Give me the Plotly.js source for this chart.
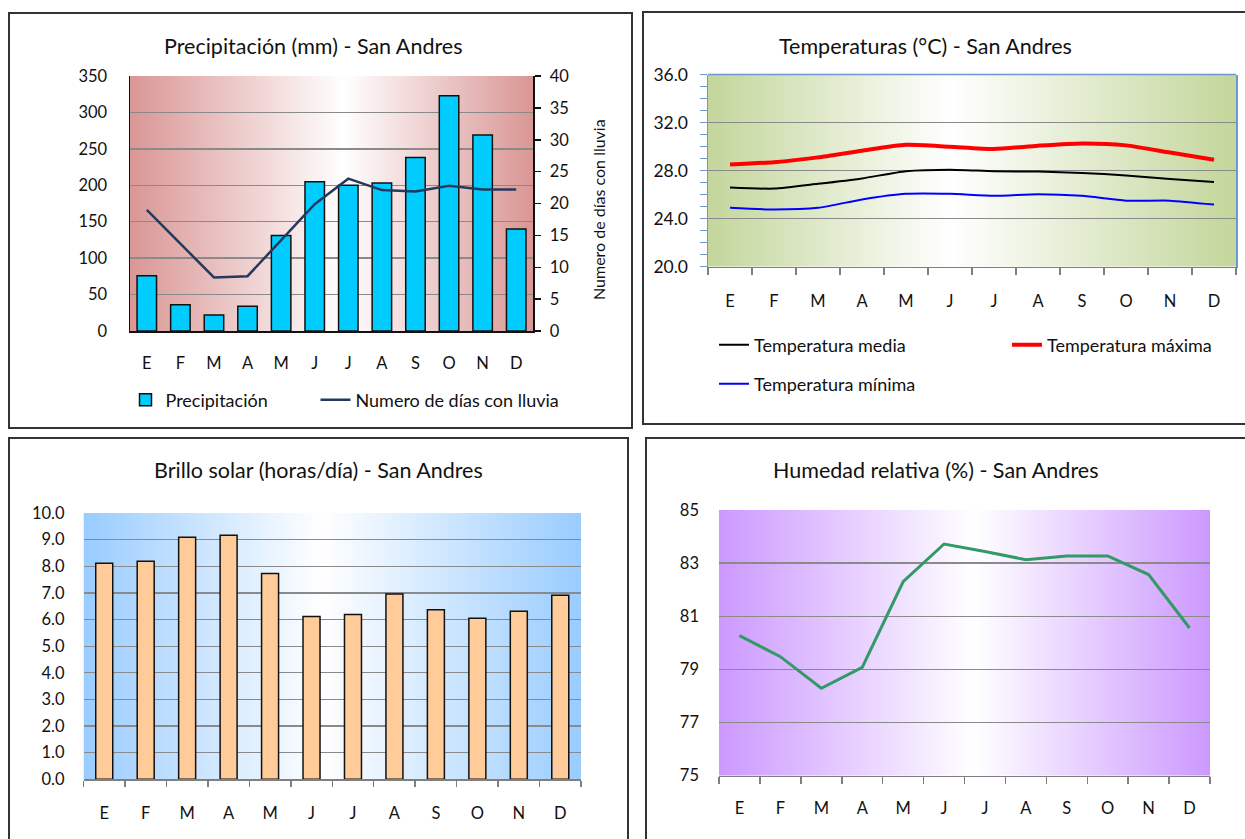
<!DOCTYPE html>
<html>
<head>
<meta charset="utf-8">
<script src="https://cdn.plot.ly/plotly-3.0.1.min.js"></script>
<style>
html,body{margin:0;padding:0;background:#fff;overflow:hidden;}
#chart{width:1245px;height:839px;}
</style>
</head>
<body>
<div id="chart"></div>
<script>
// ---- Data ----
const months = ['E','F','M','A','M','J','J','A','S','O','N','D'];
const precipitacion = [76, 36, 22, 34, 131, 205, 200, 203, 238, 323, 269, 140];
const diasLluvia = [19.0, 13.7, 8.4, 8.6, 14.3, 19.9, 23.9, 22.1, 21.9, 22.8, 22.2, 22.2];
const tempMedia = [26.6, 26.5, 26.9, 27.35, 27.95, 28.08, 27.95, 27.92, 27.8, 27.6, 27.3, 27.05];
const tempMax = [28.5, 28.7, 29.1, 29.66, 30.15, 29.99, 29.8, 30.07, 30.26, 30.1, 29.5, 28.9];
const tempMin = [24.9, 24.76, 24.9, 25.6, 26.07, 26.07, 25.9, 26.04, 25.9, 25.5, 25.5, 25.17];
const brilloSolar = [8.11, 8.19, 9.09, 9.16, 7.73, 6.11, 6.19, 6.96, 6.37, 6.05, 6.31, 6.91];
const humedad = [80.27, 79.48, 78.29, 79.08, 82.3, 83.72, 83.44, 83.13, 83.27, 83.27, 82.57, 80.56];

const titles = [
  'Precipitación (mm) - San Andres',
  'Temperaturas (°C) - San Andres',
  'Brillo solar (horas/día) - San Andres',
  'Humedad relativa (%) - San Andres'
];
const rightAxisTitle = 'Numero de días con lluvia';

// ---- helpers ----
const W = 1245, H = 839;
const px = v => v / W;
const py = v => 1 - v / H;
const idx = months.map((m, i) => i);
const bounds = months.map((m, i) => i - 0.5).concat([months.length - 0.5]);
const FONT = 'Lato, "Open Sans", sans-serif';
const TXT = '#111';
const GRID = '#8a8a8a';

function grad(edge, mid) {
  const svg = "<svg xmlns='http://www.w3.org/2000/svg' width='200' height='100' preserveAspectRatio='none'>" +
    "<defs><linearGradient id='g' x1='0' x2='1' y1='0' y2='0'>" +
    "<stop offset='0' stop-color='" + edge + "'/>" +
    "<stop offset='" + mid + "' stop-color='#ffffff'/>" +
    "<stop offset='1' stop-color='" + edge + "'/>" +
    "</linearGradient></defs><rect width='200' height='100' fill='url(#g)'/></svg>";
  return 'data:image/svg+xml;charset=utf-8,' + encodeURIComponent(svg);
}
function bgImage(xr, yr, edge, mid) {
  return {source: grad(edge, mid), xref: xr + ' domain', yref: yr + ' domain',
    x: 0, y: 1, sizex: 1, sizey: 1, xanchor: 'left', yanchor: 'top',
    sizing: 'stretch', layer: 'below'};
}
const tickF = {family: FONT, size: 16.5, color: TXT};
const legFont = {family: FONT, size: 18, color: TXT};

function monthAxis(domain, anchor, opts) {
  return Object.assign({
    domain: domain, anchor: anchor, range: [-0.5, months.length - 0.5],
    tickmode: 'array', tickvals: idx, ticktext: months,
    showgrid: false, zeroline: false, fixedrange: true, tickfont: tickF
  }, opts);
}
function leg(x, y) {
  return {orientation: 'h', x: px(x), y: py(y), xanchor: 'left', yanchor: 'middle',
    font: legFont, bgcolor: 'rgba(0,0,0,0)', borderwidth: 0};
}

const traces = [
  {type: 'bar', x: idx, y: precipitacion, name: 'Precipitación', xaxis: 'x', yaxis: 'y', width: 0.58,
   marker: {color: '#00CCFF', line: {color: '#111', width: 1.5}}, legend: 'legend'},
  {type: 'scatter', mode: 'lines', x: idx, y: diasLluvia, name: 'Numero de días con lluvia',
   xaxis: 'x', yaxis: 'y2', line: {color: '#24395E', width: 2.5}, legend: 'legend2'},

  {type: 'scatter', mode: 'lines', x: idx, y: tempMedia, name: 'Temperatura media',
   xaxis: 'x2', yaxis: 'y3', line: {color: '#000000', width: 2, shape: 'spline', smoothing: 0.6}, legend: 'legend3'},
  {type: 'scatter', mode: 'lines', x: idx, y: tempMax, name: 'Temperatura máxima',
   xaxis: 'x2', yaxis: 'y3', line: {color: '#FF0000', width: 4, shape: 'spline', smoothing: 0.6}, legend: 'legend4'},
  {type: 'scatter', mode: 'lines', x: idx, y: tempMin, name: 'Temperatura mínima',
   xaxis: 'x2', yaxis: 'y3', line: {color: '#0000FF', width: 2, shape: 'spline', smoothing: 0.6}, legend: 'legend5'},

  {type: 'bar', x: idx, y: brilloSolar, name: 'Brillo solar', xaxis: 'x3', yaxis: 'y4', width: 0.41,
   marker: {color: '#FFCC99', line: {color: '#111', width: 1.5}}, showlegend: false},

  {type: 'scatter', mode: 'lines', x: idx, y: humedad, name: 'Humedad relativa', xaxis: 'x4', yaxis: 'y5',
   line: {color: '#339966', width: 3}, showlegend: false}
];

const dom = {
  p1x: [px(130), px(533)], p1y: [py(331), py(76)],
  p2x: [px(708), px(1236)], p2y: [py(266.7), py(74.5)],
  p3x: [px(83.5), px(581)], p3y: [py(779.3), py(513)],
  p4x: [px(719), px(1210)], p4y: [py(775.7), py(510)]
};

const layout = {
  width: W, height: H, autosize: false,
  margin: {l: 0, r: 0, t: 0, b: 0, pad: 0},
  paper_bgcolor: '#ffffff', plot_bgcolor: 'rgba(0,0,0,0)',
  font: {family: FONT, color: TXT},
  barmode: 'group',
  // Panel 1
  xaxis: monthAxis(dom.p1x, 'y', {showline: true, linecolor: '#111', linewidth: 1.5, ticks: '',
    ticklabelstandoff: 17}),
  yaxis: {domain: dom.p1y, anchor: 'x', range: [0, 350], dtick: 50, showgrid: true, gridcolor: GRID, gridwidth: 1.3,
    showline: true, linecolor: '#111', linewidth: 1.5, ticks: '', zeroline: false, tickfont: tickF,
    ticklabelstandoff: 18, fixedrange: true},
  yaxis2: {overlaying: 'y', side: 'right', anchor: 'x', range: [0, 40], dtick: 5, showgrid: false,
    showline: true, linecolor: '#111', linewidth: 1.5, ticks: 'outside', ticklen: 6, tickcolor: '#111', tickwidth: 1.5,
    zeroline: false, tickfont: tickF, ticklabelstandoff: 6, fixedrange: true},
  // Panel 2
  xaxis2: monthAxis(dom.p2x, 'y3', {showline: true, linecolor: '#7f7f7f', linewidth: 1.5, ticks: '',
    ticklabelstandoff: 19,
    minor: {tickmode: 'array', tickvals: bounds, ticks: 'outside', ticklen: 7, tickcolor: '#7f7f7f', tickwidth: 1.5}}),
  yaxis3: {domain: dom.p2y, anchor: 'x2', range: [20, 36], dtick: 4, tickformat: '.1f', showgrid: true,
    gridcolor: GRID, gridwidth: 1.3, showline: true, mirror: true, linecolor: '#6E96D2', linewidth: 1.5,
    ticks: 'outside', ticklen: 7, tickcolor: '#6E96D2', tickwidth: 1.5,
    minor: {dtick: 1, ticks: 'outside', ticklen: 7, tickcolor: '#6E96D2', tickwidth: 1.5, showgrid: false},
    zeroline: false, tickfont: {family: FONT, size: 17.5, color: TXT}, ticklabelstandoff: 8, fixedrange: true},
  // Panel 3
  xaxis3: monthAxis(dom.p3x, 'y4', {showline: true, linecolor: '#7f7f7f', linewidth: 1.5, ticks: '',
    ticklabelstandoff: 18,
    minor: {tickmode: 'array', tickvals: bounds, ticks: 'outside', ticklen: 6, tickcolor: '#7f7f7f', tickwidth: 1.5}}),
  yaxis4: {domain: dom.p3y, anchor: 'x3', range: [0, 10], dtick: 1, tickformat: '.1f', showgrid: true,
    gridcolor: GRID, gridwidth: 1.3, showline: false, ticks: '', zeroline: false, tickfont: tickF,
    ticklabelstandoff: 18, fixedrange: true},
  // Panel 4
  xaxis4: monthAxis(dom.p4x, 'y5', {showline: true, linecolor: '#7f7f7f', linewidth: 1.5, ticks: '',
    ticklabelstandoff: 17,
    minor: {tickmode: 'array', tickvals: bounds, ticks: 'outside', ticklen: 7, tickcolor: '#7f7f7f', tickwidth: 1.5}}),
  yaxis5: {domain: dom.p4y, anchor: 'x4', range: [75, 85], tick0: 75, dtick: 2, showgrid: true,
    gridcolor: GRID, gridwidth: 1.3, showline: false, ticks: '', zeroline: false, tickfont: tickF,
    ticklabelstandoff: 19, fixedrange: true},

  legend: leg(125.5, 400),
  legend2: leg(315.5, 400),
  legend3: leg(714, 345),
  legend4: leg(1007, 345),
  legend5: leg(714, 384),

  images: [
    bgImage('x', 'y', '#D99694', 0.53),
    bgImage('x2', 'y3', '#C3D69B', 0.46),
    bgImage('x3', 'y4', '#99CCFF', 0.48),
    bgImage('x4', 'y5', '#CC99FF', 0.52)
  ],

  shapes: [
    {type: 'rect', xref: 'paper', yref: 'paper', x0: px(9), x1: px(632), y0: py(428), y1: py(13),
     line: {color: '#333', width: 2}, fillcolor: 'rgba(0,0,0,0)', layer: 'above'},
    {type: 'rect', xref: 'paper', yref: 'paper', x0: px(643), x1: px(1252), y0: py(424), y1: py(12),
     line: {color: '#333', width: 2}, fillcolor: 'rgba(0,0,0,0)', layer: 'above'},
    {type: 'rect', xref: 'paper', yref: 'paper', x0: px(9), x1: px(628), y0: py(850), y1: py(438),
     line: {color: '#333', width: 2}, fillcolor: 'rgba(0,0,0,0)', layer: 'above'},
    {type: 'rect', xref: 'paper', yref: 'paper', x0: px(646), x1: px(1252), y0: py(850), y1: py(438),
     line: {color: '#333', width: 2}, fillcolor: 'rgba(0,0,0,0)', layer: 'above'},
    // top border of temperature plot area
    {type: 'line', xref: 'x2 domain', yref: 'y3 domain', x0: 0, x1: 1, y0: 1, y1: 1,
     line: {color: '#6E96D2', width: 1.5}, layer: 'above'}
  ],

  annotations: [
    {text: titles[0], x: px(313), y: py(46)},
    {text: titles[1], x: px(925), y: py(46)},
    {text: titles[2], x: px(318), y: py(470)},
    {text: titles[3], x: px(935), y: py(470)},
    {text: rightAxisTitle, x: px(598), y: py(210), textangle: -90, font: {family: FONT, size: 16, color: TXT}}
  ].map(a => Object.assign({xref: 'paper', yref: 'paper', xanchor: 'center', yanchor: 'middle',
    showarrow: false, font: {family: FONT, size: 21.5, color: TXT}}, a))
};

Plotly.newPlot('chart', traces, layout, {staticPlot: true, displayModeBar: false});
</script>
</body>
</html>
